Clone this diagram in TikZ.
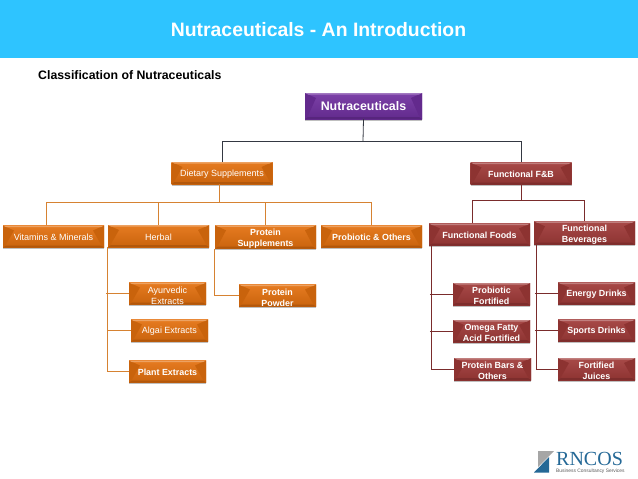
\documentclass[tikz,border=0pt]{standalone}
\usepackage{fontspec}
\setmainfont{Liberation Sans}
\newfontfamily\logofont{Liberation Serif}
\usepackage{xcolor}
\usetikzlibrary{calc}
\definecolor{skyband}{RGB}{46,196,255}
\definecolor{rootpurple}{RGB}{112,48,160}
\definecolor{dietorange}{RGB}{228,112,14}
\definecolor{foodred}{RGB}{160,58,56}
\definecolor{linedark}{RGB}{52,56,66}
\definecolor{lineorange}{RGB}{214,130,50}
\definecolor{linered}{RGB}{122,44,44}
\definecolor{logoblue}{RGB}{36,104,150}
\tikzset{
 bevelbox/.style={minimum height=22pt,inner sep=0pt,align=center,text=white,
  font=\fontsize{9}{11}\selectfont,
  execute at begin node={\rule{0pt}{8.5pt}},
  top color=#1!92!white,bottom color=#1!88!black,
  preaction={fill=black!25,transform canvas={yshift=-1.5pt}},
  path picture={
   \coordinate (sw) at (path picture bounding box.south west);
   \coordinate (ne) at (path picture bounding box.north east);
   \fill[#1!88!black] (sw)--(sw|-ne)--($(sw|-ne)+(11,5)$)--($(sw)+(3,-3)$)--cycle;
   \fill[#1!88!black] (sw-|ne)--(ne)--($(ne)+(-11,5)$)--($(sw-|ne)+(-3,-3)$)--cycle;
   \fill[#1!65!white] (sw|-ne)--(ne)--($(ne)+(-3,1.5)$)--($(sw|-ne)+(3,1.5)$)--cycle;
   \fill[#1!78!black] (sw)--(sw-|ne)--($(sw-|ne)+(-3,-2)$)--($(sw)+(3,-2)$)--cycle;
  }},
 widebox/.style={bevelbox=#1,minimum width=101pt},
 smallbox/.style={bevelbox=#1,minimum width=77pt},
 boldtext/.style={font=\bfseries\fontsize{8.9}{11}\selectfont},
 twolines/.style={execute at begin node={\rule{0pt}{21.5pt}}},
 dietline/.style={lineorange,line width=.8pt},
 foodline/.style={linered,line width=.8pt},
}

\begin{document}
\begin{tikzpicture}[x=1pt,y=-1pt]
 \useasboundingbox (0,0) rectangle (638,479);
 \fill[skyband] (0,0) rectangle (638,58);
 \node[text=white,font=\bfseries\fontsize{19.4}{23}\selectfont] (title) at (318.5,30) {Nutraceuticals - An Introduction};
 \node[anchor=west,inner sep=0pt,font=\bfseries\fontsize{12.3}{14}\selectfont] (classif) at (38,75) {Classification of Nutraceuticals};

 % top of the tree
 \node[bevelbox=rootpurple,minimum width=117pt,minimum height=26pt,font=\bfseries\fontsize{12.4}{14}\selectfont] (root) at (363.5,106) {Nutraceuticals};
 \node[widebox=dietorange] (dietary) at (222,173) {Dietary Supplements};
 \node[widebox=foodred,boldtext] (fnb) at (521,173.5) {Functional F\&B};

 % orange side
 \foreach \boxname/\xx/\yy/\boxtext in {vitamins/53.5/236.5/{Vitamins \& Minerals},herbal/158.5/236/Herbal}
  \node[widebox=dietorange] (\boxname) at (\xx,\yy) {\boxtext};
 \node[widebox=dietorange,boldtext,twolines] (suppl) at (265.5,237) {Protein\\Supplements};
 \node[widebox=dietorange,boldtext] (probio) at (371.5,236.5) {Probiotic \& Others};
 \node[smallbox=dietorange,twolines] (ayur) at (167.5,293.5) {Ayurvedic\\Extracts};
 \node[smallbox=dietorange] (algai) at (169.5,330.5) {Algai Extracts};
 \node[smallbox=dietorange,boldtext] (plant) at (167.5,371.5) {Plant Extracts};
 \node[smallbox=dietorange,boldtext,twolines] (powder) at (277.5,295.5) {Protein\\Powder};

 % red side
 \node[widebox=foodred,boldtext] (foods) at (479.5,234.5) {Functional Foods};
 \node[widebox=foodred,boldtext,twolines] (bever) at (584.5,233) {Functional\\Beverages};
 \foreach \boxname/\xx/\yy/\boxtext in {pfort/491.5/294/{Probiotic\\Fortified},omega/491.5/331/{Omega Fatty\\Acid Fortified},bars/492.5/369/{Protein Bars \&\\Others},juices/596.5/369/{Fortified\\Juices}}
  \node[smallbox=foodred,boldtext,twolines] (\boxname) at (\xx,\yy) {\boxtext};
 \foreach \boxname/\xx/\yy/\boxtext in {energy/596.5/293.5/{Energy Drinks},sports/596.5/330.5/{Sports Drinks}}
  \node[smallbox=foodred,boldtext] (\boxname) at (\xx,\yy) {\boxtext};

 % connectors
 \draw[linedark,line width=.8pt] (root.south) -- ++(-.5,22) coordinate (rootbus);
 \draw[linedark,line width=.8pt] (dietary.north) |- (rootbus) -| (fnb.north);

 \draw[dietline] ([xshift=-2.5pt]dietary.south) -- ++(0,18.5) coordinate (dietbus);
 \draw[dietline] ([xshift=-7pt]vitamins.north) |- (dietbus) -| (probio.north);
 \draw[dietline] (herbal.north) -- (herbal.north|-dietbus);
 \draw[dietline] (suppl.north) -- (suppl.north|-dietbus);
 \draw[dietline] (herbal.south west) -- (herbal.south west|-plant.west) -- (plant.west);
 \draw[dietline] ($(herbal.south west|-ayur.west)+(-2,0)$) -- (ayur.west);
 \draw[dietline] (herbal.south west|-algai.west) -- (algai.west);
 \draw[dietline] (suppl.south west) |- (powder.west);

 \draw[foodline] (fnb.south) -- ++(0,16) coordinate (fnbbus);
 \draw[foodline] ([xshift=-7pt]foods.north) |- (fnbbus) -| (bever.north);
 \foreach \topbox/\shift/\first/\second/\third in {foods/3/pfort/omega/bars,bever/3/energy/sports/juices}{
  \draw[foodline] ([xshift=\shift pt]\topbox.south west) coordinate (trunk) -- (trunk|-\third.west) -- (\third.west);
  \draw[foodline] ($(trunk|-\first.west)+(-2,0)$) -- (\first.west);
  \draw[foodline] ($(trunk|-\second.west)+(-2,0)$) -- (\second.west);
 }

 % logo
 \fill[black!35] (538,451) -- (554,451) -- (538,467) -- cycle;
 \fill[logoblue] (534,472.5) -- (549,472.5) -- (549,457) -- cycle;
 \node[anchor=west,inner sep=0pt,text=logoblue,font=\logofont\fontsize{20}{22}\selectfont] (rncos) at (556,458.5) {RNCOS};
 \node[anchor=west,inner sep=0pt,text=black!65,font=\fontsize{4.9}{6}\selectfont] (tagline) at (556,471) {Business Consultancy Services};
\end{tikzpicture}
\end{document}
